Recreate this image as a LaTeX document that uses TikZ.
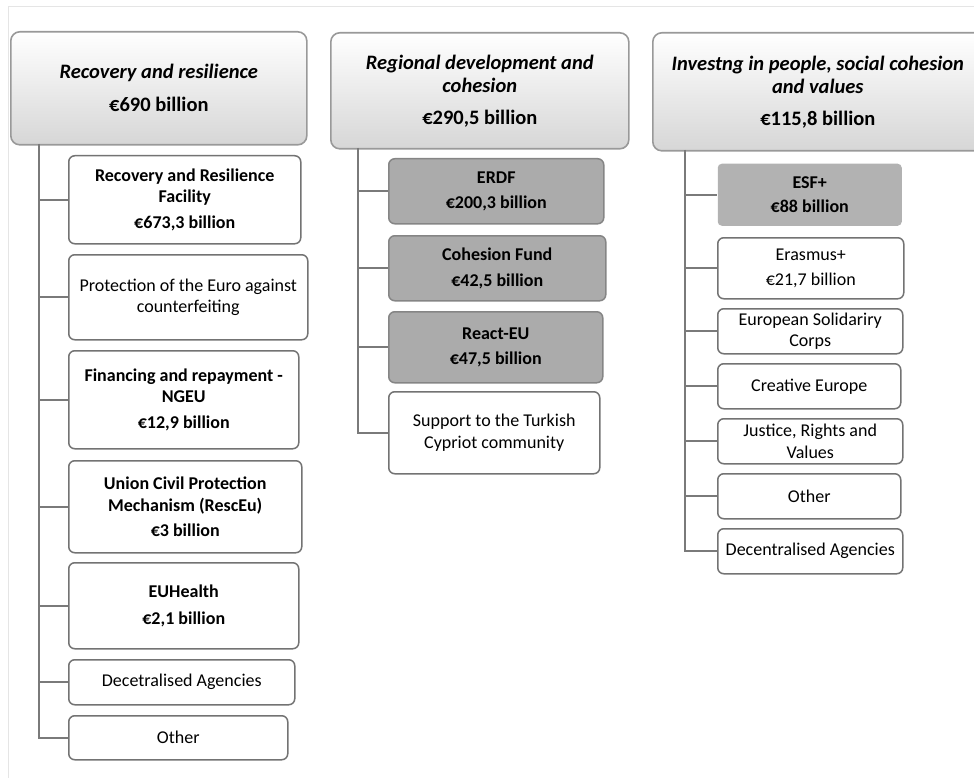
\documentclass[tikz,border=0pt]{standalone}
\usepackage{fontspec}
\setmainfont{Carlito}
\begin{document}
\begin{tikzpicture}[x=1pt,y=1pt,
  hdr/.style={draw=black!40, line width=1.6pt, rounded corners=9pt, top color=white, bottom color=black!16,
    anchor=north west, align=center, inner sep=0pt, font=\fontsize{20.5}{23}\selectfont\bfseries},
  child/.style={draw=black!55, line width=1.5pt, rounded corners=6pt, fill=white,
    anchor=north west, align=center, inner sep=0pt, font=\fontsize{18}{21.5}\selectfont},
  darkchild/.style={child, fill=black!33, draw=black!48},
  esfbox/.style={child, fill=black!30, draw=none, rounded corners=4pt},
  conn/.style={draw=black!52, line width=1.8pt},
  frame/.style={draw=black!10, line width=1pt}
]
\useasboundingbox (0,0) rectangle (974,-778);
\draw[frame] (8,-778) -- (8,-7) -- (974,-7);

% ---------- column 1 ----------
\node[hdr, minimum width=296, minimum height=113] (h1) at (10,-31)
  {\itshape Recovery and resilience\\[10pt] €690 billion};
\node[child, minimum width=232, minimum height=88] (rrf) at (68,-155)
  {\bfseries Recovery and Resilience\\ \bfseries Facility\\[4pt] \bfseries €673,3 billion};
\node[child, minimum width=239, minimum height=85] (prot) at (68,-254)
  {Protection of the Euro against\\ counterfeiting};
\node[child, minimum width=230, minimum height=98] (fin) at (68,-350)
  {\bfseries Financing and repayment -\\ \bfseries NGEU\\[4pt] \bfseries €12,9 billion};
\node[child, minimum width=233, minimum height=92] (ucpm) at (68,-460)
  {\bfseries Union Civil Protection\\ \bfseries Mechanism (RescEu)\\[4pt] \bfseries €3 billion};
\node[child, minimum width=230, minimum height=86] (euh) at (68,-562)
  {\bfseries EUHealth\\[5pt] \bfseries €2,1 billion};
\node[child, minimum width=226, minimum height=45] (dec1) at (68,-659)
  {Decetralised Agencies};
\node[child, minimum width=219, minimum height=44] (oth1) at (68,-715)
  {Other};
\coordinate (t1) at (39,-144);
\draw[conn] (t1) |- (oth1.west);
\foreach \n in {rrf,prot,fin,ucpm,euh,dec1}{\draw[conn] (t1 |- \n.west) -- (\n.west);}

% ---------- column 2 ----------
\node[hdr, minimum width=298, minimum height=116] (h2) at (330,-32)
  {\itshape Regional development and\\ \itshape cohesion\\[9pt] €290,5 billion};
\node[darkchild, minimum width=215, minimum height=65] (erdf) at (388,-158)
  {\bfseries ERDF\\[4pt] \bfseries €200,3 billion};
\node[darkchild, minimum width=217, minimum height=65] (cf) at (388,-235)
  {\bfseries Cohesion Fund\\[4pt] \bfseries €42,5 billion};
\node[darkchild, minimum width=214, minimum height=71] (react) at (388,-311)
  {\bfseries React-EU\\[4pt] \bfseries €47,5 billion};
\node[child, minimum width=211, minimum height=82] (sup) at (388,-391)
  {Support to the Turkish\\ Cypriot community};
\coordinate (t2) at (358,-148);
\draw[conn] (t2) |- (sup.west);
\foreach \n in {erdf,cf,react}{\draw[conn] (t2 |- \n.west) -- (\n.west);}

% ---------- column 3 ----------
\node[hdr, minimum width=330, minimum height=118] (h3) at (652,-32)
  {\itshape Investng in people, social cohesion\\ \itshape and values\\[9pt] €115,8 billion};
\node[esfbox, minimum width=184, minimum height=62] (esf) at (717,-163)
  {\bfseries ESF+\\[3pt] \bfseries €88 billion};
\node[child, minimum width=186, minimum height=61] (eras) at (717,-237)
  {Erasmus+\\[3pt] €21,7 billion};
\node[child, minimum width=185, minimum height=45] (esc) at (717,-308)
  {European Solidariry\\ Corps};
\node[child, minimum width=183, minimum height=45] (crea) at (717,-363)
  {Creative Europe};
\node[child, minimum width=185, minimum height=45] (just) at (717,-418)
  {Justice, Rights and\\ Values};
\node[child, minimum width=183, minimum height=45] (oth3) at (717,-473)
  {Other};
\node[child, minimum width=185, minimum height=45] (dec3) at (717,-528)
  {Decentralised Agencies};
\coordinate (t3) at (685,-150);
\draw[conn] (t3) |- (dec3.west);
\foreach \n in {esf,eras,esc,crea,just,oth3}{\draw[conn] (t3 |- \n.west) -- (\n.west);}
\end{tikzpicture}
\end{document}
